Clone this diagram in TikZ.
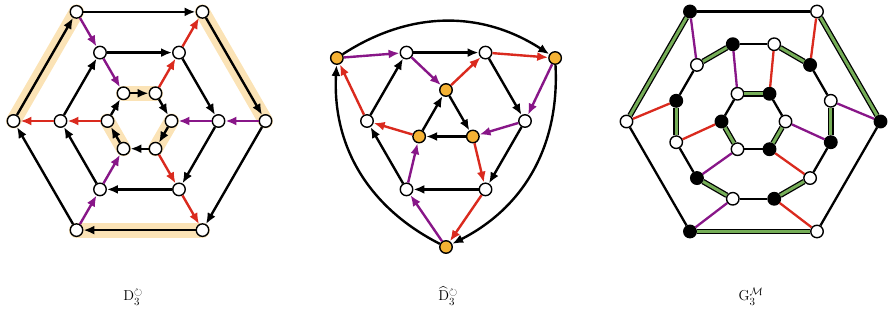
\documentclass[tikz,border=0pt]{standalone}
\usepackage{amsmath,amssymb}
\usetikzlibrary{arrows.meta,backgrounds}
\definecolor{vpurple}{RGB}{136,22,136}
\definecolor{vred}{RGB}{218,42,30}
\definecolor{vgreen}{RGB}{118,174,88}
\definecolor{vorange}{RGB}{245,178,52}
\definecolor{glowtan}{RGB}{251,227,182}

\begin{document}
\begin{tikzpicture}[
  x=1pt,y=1pt,
  vtx/.style={circle,draw,fill=white,line width=1.4pt,minimum size=12.5pt,inner sep=0pt},
  full/.style={vtx,fill=black},
  hub/.style={vtx,fill=vorange},
  flow/.style={-{Latex[length=11pt,width=9pt]},line width=2.4pt},
  pflow/.style={flow,vpurple},
  rflow/.style={flow,vred},
  rim/.style={line width=2.3pt},
  plink/.style={rim,vpurple},
  rlink/.style={rim,vred},
  matched/.style={line width=1.3pt,double=vgreen,double distance=3pt},
  glow/.style={line width=15pt,line cap=round,glowtan},
  caption/.style={anchor=base,font=\fontsize{15}{18}\selectfont}
]
\useasboundingbox (0,0) rectangle (888,321);

% D_3
\begin{scope}[shift={(139.5,200)}]
\node[vtx] (ao0) at (0:126) {};
\node[vtx] (ao60) at (60:126) {};
\node[vtx] (ao120) at (120:126) {};
\node[vtx] (ao180) at (180:126) {};
\node[vtx] (ao240) at (240:126) {};
\node[vtx] (ao300) at (300:126) {};
\node[vtx] (am0) at (0:79) {};
\node[vtx] (am60) at (60:79) {};
\node[vtx] (am120) at (120:79) {};
\node[vtx] (am180) at (180:79) {};
\node[vtx] (am240) at (240:79) {};
\node[vtx] (am300) at (300:79) {};
\node[vtx] (ai0) at (0:32) {};
\node[vtx] (ai60) at (60:32) {};
\node[vtx] (ai120) at (120:32) {};
\node[vtx] (ai180) at (180:32) {};
\node[vtx] (ai240) at (240:32) {};
\node[vtx] (ai300) at (300:32) {};
\end{scope}
\begin{pgfonlayer}{background}
\draw[glow] (ao180.center) -- (ao120.center);
\draw[glow] (ao60.center) -- (ao0.center);
\draw[glow] (ao300.center) -- (ao240.center);
\draw[glow] (ai120.center) -- (ai60.center);
\draw[glow] (ai0.center) -- (ai300.center);
\draw[glow] (ai240.center) -- (ai180.center);
\end{pgfonlayer}
\draw[flow] (ao120) -- (ao60);
\draw[flow] (ao60) -- (ao0);
\draw[flow] (ao0) -- (ao300);
\draw[flow] (ao300) -- (ao240);
\draw[flow] (ao240) -- (ao180);
\draw[flow] (ao180) -- (ao120);
\draw[flow] (am120) -- (am60);
\draw[flow] (am60) -- (am0);
\draw[flow] (am0) -- (am300);
\draw[flow] (am300) -- (am240);
\draw[flow] (am240) -- (am180);
\draw[flow] (am180) -- (am120);
\draw[flow] (ai120) -- (ai60);
\draw[flow] (ai60) -- (ai0);
\draw[flow] (ai0) -- (ai300);
\draw[flow] (ai300) -- (ai240);
\draw[flow] (ai240) -- (ai180);
\draw[flow] (ai180) -- (ai120);
\draw[pflow] (ao120) -- (am120);
\draw[pflow] (am120) -- (ai120);
\draw[pflow] (ao0) -- (am0);
\draw[pflow] (am0) -- (ai0);
\draw[pflow] (ao240) -- (am240);
\draw[pflow] (am240) -- (ai240);
\draw[rflow] (ai60) -- (am60);
\draw[rflow] (am60) -- (ao60);
\draw[rflow] (ai180) -- (am180);
\draw[rflow] (am180) -- (ao180);
\draw[rflow] (ai300) -- (am300);
\draw[rflow] (am300) -- (ao300);

% hat D_3
\begin{scope}[shift={(446,200)}]
\node[hub] (bo30) at (30:126) {};
\node[hub] (bo150) at (150:126) {};
\node[hub] (bo270) at (270:126) {};
\node[vtx] (bm0) at (0:79) {};
\node[vtx] (bm60) at (60:79) {};
\node[vtx] (bm120) at (120:79) {};
\node[vtx] (bm180) at (180:79) {};
\node[vtx] (bm240) at (240:79) {};
\node[vtx] (bm300) at (300:79) {};
\node[hub] (bi90) at (90:31) {};
\node[hub] (bi210) at (210:31) {};
\node[hub] (bi330) at (330:31) {};
\end{scope}
\draw[pflow] (bo150) -- (bm120);
\draw[flow] (bm120) -- (bm60);
\draw[rflow] (bm60) -- (bo30);
\draw[pflow] (bm120) -- (bi90);
\draw[rflow] (bi90) -- (bm60);
\draw[flow] (bm60) -- (bm0);
\draw[pflow] (bo30) -- (bm0);
\draw[rflow] (bm180) -- (bo150);
\draw[flow] (bm180) -- (bm120);
\draw[flow] (bi90) -- (bi330);
\draw[flow] (bi330) -- (bi210);
\draw[flow] (bi210) -- (bi90);
\draw[rflow] (bi210) -- (bm180);
\draw[pflow] (bm0) -- (bi330);
\draw[rflow] (bi330) -- (bm300);
\draw[flow] (bm0) -- (bm300);
\draw[flow] (bm300) -- (bm240);
\draw[flow] (bm240) -- (bm180);
\draw[pflow] (bm240) -- (bi210);
\draw[pflow] (bo270) -- (bm240);
\draw[rflow] (bm300) -- (bo270);
\draw[flow] (bo270) to[bend left=33] (bo150);
\draw[flow] (bo150) to[bend left=33] (bo30);
\draw[flow] (bo30) to[bend left=33] (bo270);

% G_3^M
\begin{scope}[shift={(753.5,199.5)}]
\node[full] (co0) at (0:127) {};
\node[vtx] (co60) at (60:127) {};
\node[full] (co120) at (120:127) {};
\node[vtx] (co180) at (180:127) {};
\node[full] (co240) at (240:127) {};
\node[vtx] (co300) at (300:127) {};
\node[vtx] (cm15) at (15:80) {};
\node[full] (cm45) at (45:80) {};
\node[vtx] (cm75) at (75:80) {};
\node[full] (cm105) at (105:80) {};
\node[vtx] (cm135) at (135:80) {};
\node[full] (cm165) at (165:80) {};
\node[vtx] (cm195) at (195:80) {};
\node[full] (cm225) at (225:80) {};
\node[vtx] (cm255) at (255:80) {};
\node[full] (cm285) at (285:80) {};
\node[vtx] (cm315) at (315:80) {};
\node[full] (cm345) at (345:80) {};
\node[vtx] (ci0) at (0:32) {};
\node[full] (ci60) at (60:32) {};
\node[vtx] (ci120) at (120:32) {};
\node[full] (ci180) at (180:32) {};
\node[vtx] (ci240) at (240:32) {};
\node[full] (ci300) at (300:32) {};
\end{scope}
\draw[rim] (co120) -- (co60);
\draw[matched] (co60) -- (co0);
\draw[rim] (co0) -- (co300);
\draw[matched] (co300) -- (co240);
\draw[rim] (co240) -- (co180);
\draw[matched] (co180) -- (co120);
\draw[rim] (cm105) -- (cm75);
\draw[matched] (cm75) -- (cm45);
\draw[rim] (cm45) -- (cm15);
\draw[matched] (cm15) -- (cm345);
\draw[rim] (cm345) -- (cm315);
\draw[matched] (cm315) -- (cm285);
\draw[rim] (cm285) -- (cm255);
\draw[matched] (cm255) -- (cm225);
\draw[rim] (cm225) -- (cm195);
\draw[matched] (cm195) -- (cm165);
\draw[rim] (cm165) -- (cm135);
\draw[matched] (cm135) -- (cm105);
\draw[matched] (ci120) -- (ci60);
\draw[rim] (ci60) -- (ci0);
\draw[matched] (ci0) -- (ci300);
\draw[rim] (ci300) -- (ci240);
\draw[matched] (ci240) -- (ci180);
\draw[rim] (ci180) -- (ci120);
\draw[plink] (co120) -- (cm135);
\draw[plink] (cm105) -- (ci120);
\draw[rlink] (co60) -- (cm45);
\draw[rlink] (cm75) -- (ci60);
\draw[plink] (co0) -- (cm15);
\draw[plink] (cm345) -- (ci0);
\draw[rlink] (co300) -- (cm285);
\draw[rlink] (cm315) -- (ci300);
\draw[plink] (co240) -- (cm255);
\draw[plink] (cm225) -- (ci240);
\draw[rlink] (co180) -- (cm165);
\draw[rlink] (cm195) -- (ci180);

\node[caption] (capa) at (133,20) {$\mathrm{D}_3^{\circlearrowright}$};
\node[caption] (capb) at (448,20) {$\widehat{\mathrm{D}}_3^{\circlearrowright}$};
\node[caption] (capc) at (751,20) {$\mathrm{G}_3^{\mathcal{M}}$};
\end{tikzpicture}
\end{document}
